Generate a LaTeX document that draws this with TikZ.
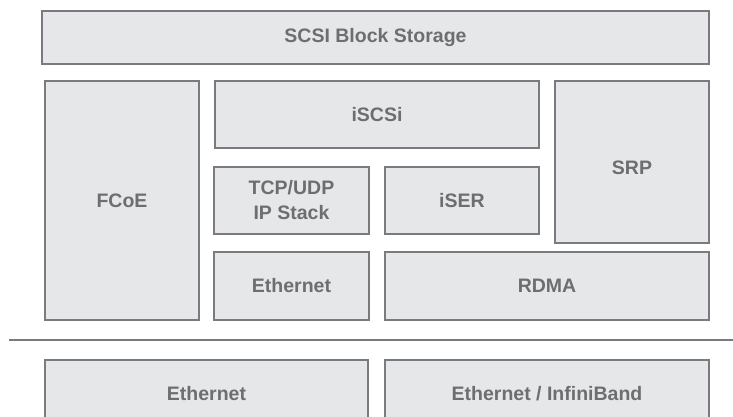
\documentclass[tikz,border=0pt]{standalone}
\usepackage{fontspec}
\setmainfont{Liberation Sans}
\usepackage{tikz}
\usetikzlibrary{positioning}

\definecolor{boxfill}{HTML}{E6E7E8}
\definecolor{boxline}{HTML}{7A7B7E}
\definecolor{boxtext}{HTML}{6D6E71}

\tikzset{
    layer/.style={draw=boxline, fill=boxfill, line width=2pt, inner sep=0pt,
        text=boxtext, font=\fontsize{19.5}{25}\selectfont\bfseries, align=center},
    sep/.style={draw=boxline, line width=2pt}
}

\begin{document}
\begin{tikzpicture}[x=1pt,y=-1pt]
        \useasboundingbox (0,0) rectangle (733,416);
        \clip (0,0) rectangle (733,416);

        % upper stack
        \node[layer, minimum width=667pt, minimum height=53pt] (scsi) at (375.5,37.5) {SCSI Block Storage};
        \node[layer, minimum width=154pt, minimum height=239pt] (fcoe) at (122,200.5) {FCoE};
        \node[layer, minimum width=324pt, minimum height=67pt] (iscsi) at (377,114.5) {iSCSi};
        \node[layer, minimum width=155pt, minimum height=67pt] (tcp) at (291.5,200.5) {TCP/UDP\\IP Stack};
        \node[layer, minimum width=154pt, minimum height=67pt] (iser) at (462,200.5) {iSER};
        \node[layer, minimum width=154pt, minimum height=162pt,
            label={[text=boxtext, font=\fontsize{19.5}{25}\selectfont\bfseries, yshift=-6pt]center:SRP}] (srp) at (632,162) {};
        \node[layer, minimum width=155pt, minimum height=68pt] (eth) at (291.5,286) {Ethernet};
        \node[layer, minimum width=324pt, minimum height=68pt] (rdma) at (547,286) {RDMA};

        % separator
        \coordinate (sepleft) at (9,340);
        \coordinate (sepright) at (733,340);
        \draw[sep] (sepleft) -- (sepright);

        % link layer
        \node[layer, minimum width=323pt, minimum height=68pt] (ethlink) at (206.5,394) {Ethernet};
        \node[layer, minimum width=324pt, minimum height=68pt] (iblink) at (547,394) {Ethernet / InfiniBand};
\end{tikzpicture}
\end{document}
